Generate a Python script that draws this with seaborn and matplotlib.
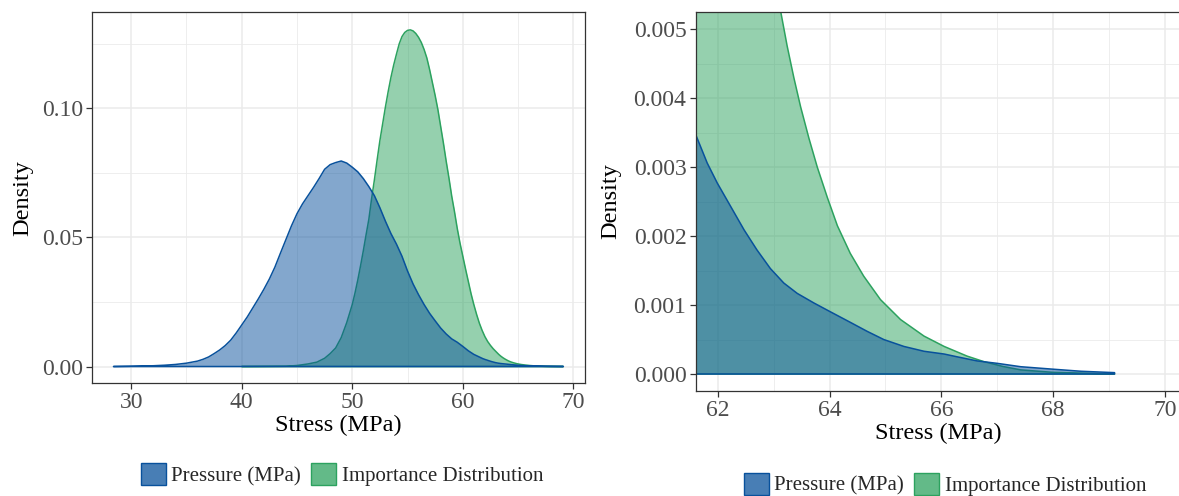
import matplotlib
matplotlib.use("Agg")
import matplotlib.pyplot as plt
import seaborn as sns
from matplotlib.patches import Patch
from matplotlib.ticker import MultipleLocator

# ---------------- data ----------------
series_names = ["Pressure (MPa)", "Importance Distribution"]

pressure_x = [28.4, 30.0, 31.0, 32.0, 33.0, 34.0, 35.0, 36.0, 36.5, 37.0, 37.5, 38.0,
              38.5, 39.0, 39.5, 40.0, 40.5, 41.0, 41.5, 42.0, 42.5, 43.0, 43.5, 44.0,
              44.5, 45.0, 45.5, 46.0, 46.5, 47.0, 47.5, 48.0, 48.5, 49.0, 49.5, 50.0,
              50.5, 51.0, 51.5, 52.0, 52.5, 53.0, 53.5, 54.0, 54.5, 55.0, 55.5, 56.0,
              56.5, 57.0, 57.5, 58.0, 58.5, 59.0, 59.5, 60.0, 60.5, 61.0, 61.62, 61.81,
              61.99, 62.23, 62.47, 62.70, 62.94, 63.18, 63.42, 63.72, 64.02, 64.37, 64.67,
              64.97, 65.33, 65.69, 66.05, 66.28, 66.64, 67.0, 67.42, 68.0, 68.5, 69.1]
pressure_density = [0.0000, 0.0001, 0.0002, 0.0003, 0.0005, 0.0008, 0.0013, 0.0021, 0.0028,
                    0.0037, 0.0050, 0.0064, 0.0081, 0.0102, 0.0130, 0.0161, 0.0192, 0.0227,
                    0.0262, 0.0299, 0.0339, 0.0385, 0.0439, 0.0492, 0.0545, 0.0592, 0.0630,
                    0.0662, 0.0694, 0.0728, 0.0764, 0.0782, 0.0790, 0.0796, 0.0788, 0.0772,
                    0.0754, 0.0728, 0.0697, 0.0662, 0.0615, 0.0563, 0.0515, 0.0474, 0.0427,
                    0.0370, 0.0320, 0.0278, 0.0240, 0.0206, 0.0177, 0.0149, 0.0126, 0.0107,
                    0.0094, 0.0078, 0.0061, 0.0047, 0.00344, 0.00306, 0.00277, 0.00243,
                    0.00209, 0.00180, 0.00153, 0.00132, 0.00117, 0.00103, 0.00090, 0.00075,
                    0.00062, 0.00050, 0.00040, 0.00033, 0.00029, 0.00025, 0.00019, 0.000155,
                    0.000106, 0.00007, 0.00004, 0.00002]

importance_x = [40.0, 44.0, 45.0, 46.0, 46.8, 47.5, 48.0, 48.5, 49.0, 49.5, 50.0, 50.25,
                50.5, 50.75, 51.0, 51.25, 51.5, 51.75, 52.0, 52.25, 52.5, 52.75, 53.0, 53.25,
                53.5, 53.75, 54.0, 54.25, 54.5, 54.75, 55.0, 55.25, 55.5, 55.75, 56.0, 56.25,
                56.5, 56.75, 57.0, 57.25, 57.5, 57.75, 58.0, 58.25, 58.5, 58.75, 59.0, 59.25,
                59.5, 59.75, 60.0, 60.25, 60.5, 60.75, 61.0, 61.25, 61.5, 61.75, 62.0, 62.25,
                62.5, 62.75, 63.0, 63.12, 63.24, 63.36, 63.48, 63.63, 63.78, 63.96, 64.14,
                64.37, 64.61, 64.91, 65.27, 65.69, 66.05, 66.46, 66.76, 67.1, 67.42, 68.0,
                69.1]
importance_density = [0.0000, 0.0001, 0.0004, 0.0010, 0.0017, 0.0032, 0.0050, 0.0072, 0.0112,
                      0.0170, 0.0240, 0.0285, 0.0335, 0.0390, 0.0448, 0.0510, 0.0570, 0.0650,
                      0.0722, 0.0800, 0.0875, 0.0940, 0.1005, 0.1065, 0.1120, 0.1168, 0.1210,
                      0.1250, 0.1278, 0.1294, 0.1302, 0.1304, 0.1300, 0.1290, 0.1275, 0.1255,
                      0.1228, 0.1195, 0.1150, 0.1100, 0.1050, 0.0995, 0.0930, 0.0865, 0.0795,
                      0.0730, 0.0660, 0.0600, 0.0535, 0.0478, 0.0428, 0.0378, 0.0330, 0.0282,
                      0.0240, 0.0202, 0.0168, 0.0140, 0.0116, 0.0097, 0.0082, 0.0069, 0.0058,
                      0.00528, 0.00476, 0.00430, 0.00388, 0.00342, 0.00300, 0.00256, 0.00215,
                      0.00175, 0.00142, 0.00108, 0.00079, 0.00055, 0.00040, 0.00026, 0.00018,
                      0.00011, 0.00006, 0.000024, 0.000002]

left_xticks = [30, 40, 50, 60, 70]
left_yticks = [0.00, 0.05, 0.10]
left_ytick_labels = ["0.00", "0.05", "0.10"]
right_xticks = [62, 64, 66, 68, 70]
right_yticks = [0.000, 0.001, 0.002, 0.003, 0.004, 0.005]
right_ytick_labels = ["0.000", "0.001", "0.002", "0.003", "0.004", "0.005"]
x_label = "Stress (MPa)"
y_label = "Density"

# ---------------- style ----------------
sns.set_theme(style="whitegrid")
plt.rcParams["font.family"] = ["Liberation Serif", "DejaVu Serif"]

BLUE = "#08519C"
GREEN = "#2CA25F"
BLUE_KEY = (0x08 / 255, 0x51 / 255, 0x9C / 255, 0.74)
GREEN_KEY = (0x2C / 255, 0xA2 / 255, 0x5F / 255, 0.74)
GRID = "#EBEBEB"
BORDER = "#333333"
TICKTXT = "#4D4D4D"

W, H = 1179, 496
fig = plt.figure(figsize=(W / 100, H / 100), dpi=100)
fig.patch.set_facecolor("white")


def axes_px(l, t, r, b):
    return fig.add_axes([l / W, 1 - b / H, (r - l) / W, (b - t) / H])


ax1 = axes_px(92, 12.3, 585, 383.3)
ax2 = axes_px(695.5, 12.3, 1181.6, 390.7)


def draw(ax):
    z = 2.0
    for xs, ys, col in [(importance_x, importance_density, GREEN),
                        (pressure_x, pressure_density, BLUE)]:
        ax.fill_between(xs, ys, 0, color=col, alpha=0.5, lw=0, zorder=z)
        ox = list(xs) + [xs[-1], xs[0], xs[0]]
        oy = list(ys) + [0.0, 0.0, ys[0]]
        sns.lineplot(x=ox, y=oy, sort=False, estimator=None, color=col,
                     lw=1.1, ax=ax, zorder=z + 0.1)
        z += 0.2


def style(ax, xlim, ylim, xticks, yticks, ylabels, xminor, yminor, xlab_y, ylab_x):
    ax.set_facecolor("white")
    ax.set_xlim(*xlim)
    ax.set_ylim(*ylim)
    ax.set_xticks(xticks)
    ax.set_xticklabels([str(t) for t in xticks])
    ax.set_yticks(yticks)
    ax.set_yticklabels(ylabels)
    ax.xaxis.set_minor_locator(MultipleLocator(xminor))
    ax.yaxis.set_minor_locator(MultipleLocator(yminor))
    ax.grid(which="major", color=GRID, lw=1.1)
    ax.grid(which="minor", color=GRID, lw=0.6)
    ax.set_axisbelow(True)
    ax.tick_params(which="major", length=4, width=0.9, color=BORDER,
                   labelcolor=TICKTXT, labelsize=17, pad=2.5,
                   bottom=True, left=True, direction="out")
    ax.tick_params(which="minor", length=0)
    for s in ax.spines.values():
        s.set_color(BORDER)
        s.set_linewidth(0.9)
    ax.set_xlabel(x_label, fontsize=17.5, color="black")
    ax.set_ylabel(y_label, fontsize=17.5, color="black")
    ax.xaxis.set_label_coords(0.5, xlab_y)
    ax.xaxis.label.set_verticalalignment("center")
    ax.yaxis.set_label_coords(ylab_x, 0.5)
    ax.yaxis.label.set_verticalalignment("center")


draw(ax1)
draw(ax2)

style(ax1, (26.45, 71.06), (-0.0065, 0.1372), left_xticks, left_yticks, left_ytick_labels,
      5, 0.025, (383.3 - 425.5) / (383.3 - 12.3), (22.5 - 92) / (585 - 92))
style(ax2, (61.6, 70.3), (-0.000242, 0.005247), right_xticks, right_yticks, right_ytick_labels,
      1, 0.0005, (390.7 - 433) / (390.7 - 12.3), (611 - 695.5) / (1181.6 - 695.5))


def legend_handles():
    return [Patch(facecolor=BLUE_KEY, edgecolor=BLUE, lw=1.0),
            Patch(facecolor=GREEN_KEY, edgecolor=GREEN, lw=1.0)]


for cx, cy in [(342 / W, 1 - 474.7 / H), (945 / W, 1 - 484.5 / H)]:
    fig.legend(handles=legend_handles(), labels=series_names, loc="center",
               bbox_to_anchor=(cx, cy), ncol=2, frameon=False, fontsize=15,
               handlelength=1.2, handleheight=1.2, handletextpad=0.25,
               columnspacing=0.5, borderpad=0, borderaxespad=0)

fig.savefig("out.png", dpi=100, facecolor="white")
